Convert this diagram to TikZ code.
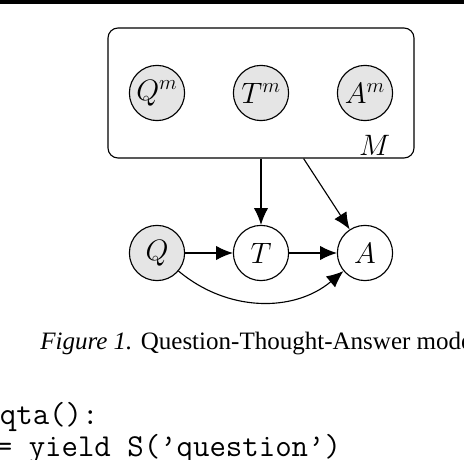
\RequirePackage{fix-cm}
\documentclass[tikz,border=0pt]{standalone}
\usepackage{fontspec}
\setmainfont{Liberation Serif}
\usetikzlibrary{arrows.meta}

\begin{document}
\begin{tikzpicture}
		\tikzset{>={Latex[length=4.2mm,width=3.6mm]}}
		\tikzset{var/.style={circle,draw,line width=0.8pt,minimum size=1.38cm,inner sep=0pt,font=\fontsize{21}{24}\selectfont},
			obs/.style={var,fill=gray!20}}
		
		\useasboundingbox (0,0) rectangle (11.6,11.5);
		\fill[black] (0,11.4) rectangle (11.6,11.5);
		
		\node[obs] (qm) at (3.925,9.175) {$Q^m$};
		\node[obs] (tm) at (6.525,9.175) {$T^m$};
		\node[obs] (am) at (9.125,9.175) {$A^m$};
		\node[draw,line width=0.8pt,rounded corners=0.25cm,minimum width=7.65cm,minimum height=3.25cm] (plate) at (6.525,9.175) {};
		\node[anchor=base east,inner sep=0pt,xshift=-0.6cm,yshift=0.08cm,font=\fontsize{21}{24}\selectfont] (m) at (plate.south east) {$M$};
		
		\node[obs] (q) at (3.925,5.175) {$Q$};
		\node[var] (t) at (6.525,5.175) {$T$};
		\node[var] (a) at (9.125,5.175) {$A$};
		
		\draw[->,line width=0.8pt] (q) -- (t);
		\draw[->,line width=0.8pt] (t) -- (a);
		\draw[->,line width=0.8pt] (plate) -- (t);
		\draw[->,line width=0.8pt] (plate) -- (a);
		\draw[->,line width=0.8pt] (q) to[out=-40,in=-140] (a);
		
		\node[anchor=base west,inner sep=0pt,font=\fontsize{17.8}{20}\selectfont] (cap) at (1.0,2.75) {\textit{Figure 1.} Question-Thought-Answer mode};
		\node[anchor=base west,inner sep=0pt,font=\ttfamily\fontsize{22.7}{26}\selectfont] (l1) at (-0.01,0.875) {qta():};
		\node[anchor=base west,inner sep=0pt,font=\ttfamily\fontsize{22.7}{26}\selectfont] (l2) at (-0.11,0.075) {= yield S(’question’)};
		
	\end{tikzpicture}
\end{document}
